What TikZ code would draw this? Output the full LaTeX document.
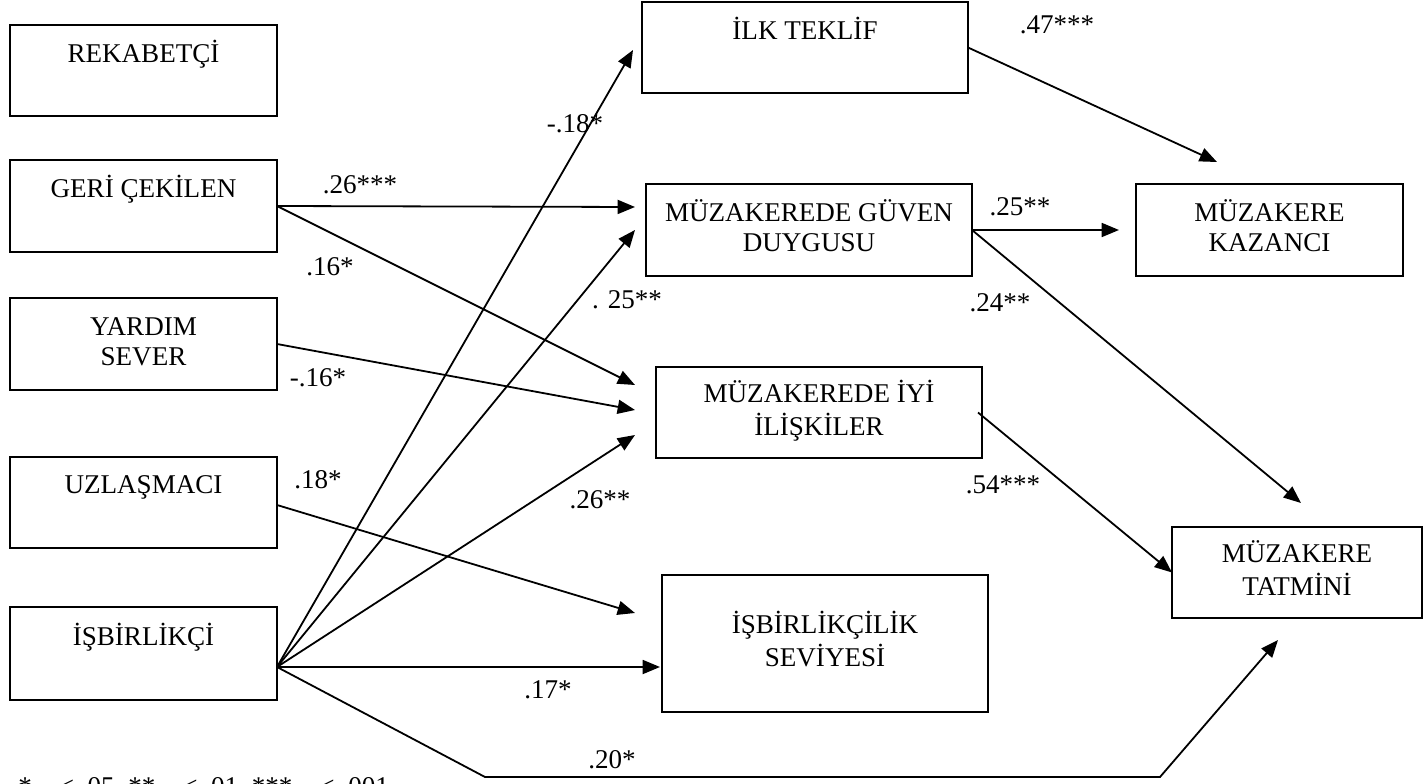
\documentclass[tikz,border=0pt]{standalone}
\usepackage{fontspec}
\setmainfont{Liberation Serif}
\usetikzlibrary{arrows.meta,calc}
\newdimen\px \px=0.75pt
\begin{document}
\begin{tikzpicture}[x=0.75pt,y=-0.75pt,
  box/.style={draw, line width=2\px, inner sep=0, outer sep=0, align=center,
    font=\fontsize{20.3}{22.5}\selectfont},
  lw/.style={minimum width=267\px},
  rw/.style={minimum width=326\px},
  lbl/.style={inner sep=0, font=\fontsize{20.3}{22.5}\selectfont},
  arr/.style={line width=1.8\px, -{Triangle[length=13pt,width=10.5pt]}},
  ln/.style={line width=1.8\px}]
\useasboundingbox (0,0) rectangle (1424,784);
\fill[white] (0,0) rectangle (1424,784);

% left column
\node[box, lw, minimum height=91\px] (rek) at (143.5,70.5) {REKABETÇİ\strut\\\strut};
\node[box, lw, minimum height=92\px] (geri) at (143.5,206) {GERİ ÇEKİLEN\strut\\\strut};
\node[box, lw, minimum height=92\px] (yard) at (143.5,344) {YARDIM\strut\\SEVER\strut};
\node[box, lw, minimum height=91\px] (uzl) at (143.5,502.5) {UZLAŞMACI\strut\\\strut};
\node[box, lw, minimum height=93\px] (isb) at (143.5,653.5) {İŞBİRLİKÇİ\strut\\\strut};

% middle column
\node[box, rw, minimum height=91\px] (ilk) at (805,47.5) {İLK TEKLİF\strut\\\strut};
\node[box, rw, minimum height=92\px] (mgd) at (809,230) {MÜZAKEREDE GÜVEN\strut\\DUYGUSU\strut};
\node[box, rw, minimum height=91\px] (mii) at (819,412.5) {MÜZAKEREDE İYİ\strut\\İLİŞKİLER\strut};
\node[box, rw, minimum height=137\px] (iss) at (825,643.5) {İŞBİRLİKÇİLİK\strut\\SEVİYESİ\strut};

% right column
\node[box, lw, minimum height=92\px] (mk) at (1269.5,230) {MÜZAKERE\strut\\KAZANCI\strut};
\node[box, minimum width=250\px, minimum height=91\px] (mt) at (1297,572.5) {MÜZAKERE\strut\\TATMİNİ\strut};

% connectors from İŞBİRLİKÇİ
\coordinate (isbout) at ($(isb.east)+(0,13.5)$);
\draw[arr] (isbout) -- ($(ilk.west)+(-9,2.5)$);
\draw[arr] (isbout) -- ($(mgd.west)+(-11,0)$);
\draw[arr] (isbout) -- ($(mii.west)+(-21,22.5)$);
\draw[arr] (isbout) -- ($(iss.west)+(-2,23.5)$);
\coordinate (b1) at (485,777);
\coordinate (b2) at (1160,777);
\draw[arr] (isbout) -- (b1) -- (b2) -- ($(mt.south)+(-19,22)$);

% other connectors
\draw[arr] (geri.east) -- ($(mgd.west)+(-11,-23)$);
\draw[arr] (geri.east) -- ($(mii.west)+(-21,-27.5)$);
\draw[arr] (yard.east) -- ($(mii.west)+(-21,-2.5)$);
\draw[arr] ($(uzl.east)+(0,2.5)$) -- ($(iss.west)+(-27,-30.5)$);
\draw[arr] (ilk.east) -- ($(mk.north)+(-52.5,-22)$);
\draw[arr] (mgd.east) -- ($(mk.west)+(-17,0)$);
\draw[arr] (mgd.east) -- ($(mt.north)+(4,-24)$);
\draw[arr] ($(mii.east)+(-4,0)$) -- (mt.west);

% labels
\node[lbl] (l1) at (575,124) {-.18*};
\node[lbl] (l2) at (627,300) {. 25**};
\node[lbl] (l3) at (600,500) {.26**};
\node[lbl] (l4) at (548,690) {.17*};
\node[lbl] (l5) at (612,760) {.20*};
\node[lbl] (l6) at (360,185) {.26***};
\node[lbl] (l7) at (330,267) {.16*};
\node[lbl] (l8) at (318,378) {-.16*};
\node[lbl] (l9) at (318,480) {.18*};
\node[lbl] (l10) at (1057,25) {.47***};
\node[lbl] (l11) at (1020,207) {.25**};
\node[lbl] (l12) at (1000,303) {.24**};
\node[lbl] (l13) at (1003,485) {.54***};

% footnote (clipped at the bottom edge, as in the reference)
\node[lbl, anchor=base west] (note) at (18,795) {*\ \phantom{p}\ < .05, **\ \phantom{p}\ < .01, ***\ \phantom{p}\ < .001};
\end{tikzpicture}
\end{document}
